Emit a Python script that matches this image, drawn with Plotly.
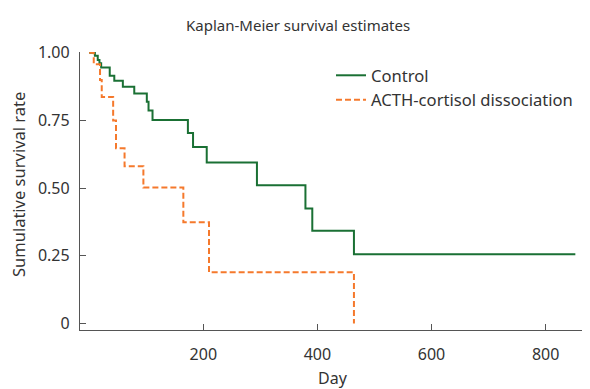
import plotly.graph_objects as go

# Kaplan-Meier step data
control_days = [0, 10, 15, 18, 21, 36, 44, 59, 79, 101, 104, 111, 173, 182, 206, 294, 379, 391, 464, 852]
control_surv = [1.0, 0.989, 0.973, 0.961, 0.946, 0.915, 0.897, 0.875, 0.850, 0.819, 0.787, 0.752,
                0.704, 0.652, 0.595, 0.511, 0.425, 0.343, 0.256, 0.256]

acth_days = [0, 8, 19, 22, 42, 47, 62, 95, 165, 210, 464]
acth_surv = [1.0, 0.958, 0.90, 0.837, 0.75, 0.647, 0.581, 0.502, 0.374, 0.189, 0.0]

y_tickvals = [0, 0.25, 0.5, 0.75, 1.0]
y_ticktext = ["0", "0.25", "0.50", "0.75", "1.00"]
x_tickvals = [200, 400, 600, 800]
x_ticktext = ["200", "400", "600", "800"]

GREEN = "#1a7034"
ORANGE = "#f5792c"
AXIS = "#555555"
TEXT = "#333333"
FONT = "Noto Sans"

fig = go.Figure()
fig.add_trace(go.Scatter(x=control_days, y=control_surv, mode="lines", name="Control",
                         line=dict(color=GREEN, width=2, shape="hv")))
fig.add_trace(go.Scatter(x=acth_days, y=acth_surv, mode="lines", name="ACTH-cortisol dissociation",
                         line=dict(color=ORANGE, width=2, shape="hv", dash="6px,3px")))

# page body has an 8px default margin, so the figure is shifted by 8px
fig.update_layout(
    width=582, height=381, autosize=False,
    margin=dict(l=72, r=0, t=44, b=59),
    paper_bgcolor="white", plot_bgcolor="white",
    font=dict(family=FONT, size=16, color=TEXT),
    showlegend=True,
    legend=dict(x=(331 - 80) / 510, y=(330 - 58) / 278, xanchor="left", yanchor="top",
                bgcolor="rgba(0,0,0,0)", itemwidth=30, font=dict(size=16.6, color=TEXT)),
    xaxis=dict(range=[-16.1, 877.7], showgrid=False, zeroline=False,
               showline=True, linecolor=AXIS, linewidth=1.3,
               ticks="inside", ticklen=6, tickcolor=AXIS, tickwidth=1.3,
               tickvals=x_tickvals, ticktext=x_ticktext, ticklabelstandoff=10),
    yaxis=dict(range=[-0.024, 1.003], showgrid=False, zeroline=False,
               showline=True, linecolor=AXIS, linewidth=1.3,
               ticks="inside", ticklen=6, tickcolor=AXIS, tickwidth=1.3,
               tickvals=y_tickvals, ticktext=y_ticktext, ticklabelstandoff=6),
    annotations=[
        dict(text="Kaplan-Meier survival estimates", xref="paper", yref="paper",
             x=(297.5 - 80) / 510, y=(330 - 25) / 278, showarrow=False,
             xanchor="center", yanchor="middle", font=dict(size=15, color=TEXT)),
        dict(text="Day", xref="paper", yref="paper",
             x=(333 - 80) / 510, y=(330 - 378) / 278, showarrow=False,
             xanchor="center", yanchor="middle", font=dict(size=16, color=TEXT)),
        dict(text="Sumulative survival rate", xref="paper", yref="paper",
             x=(18 - 80) / 510, y=(330 - 185) / 278, showarrow=False, textangle=-90,
             xanchor="center", yanchor="middle", font=dict(size=16.5, color=TEXT)),
    ],
)

fig.write_html("out.html")
